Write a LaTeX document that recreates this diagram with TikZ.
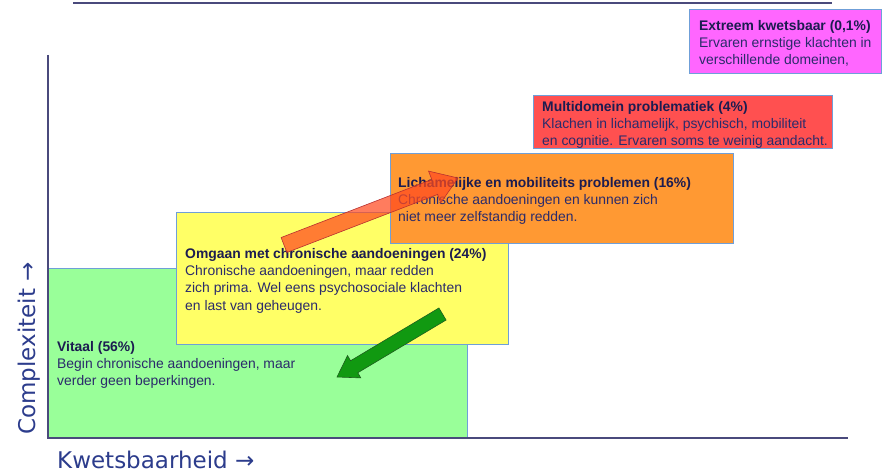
\documentclass[tikz,border=0pt]{standalone}
\usepackage{fontspec}
\setmainfont{Liberation Sans}
\newfontfamily\axisfont{DejaVu Sans}
\usetikzlibrary{calc}

\definecolor{axisline}{HTML}{4A4A7C}
\definecolor{axistext}{HTML}{2C3C8C}
\definecolor{boxline}{HTML}{6F9FD8}
\definecolor{headtext}{HTML}{1C1C50}
\definecolor{bodytext}{HTML}{2B2B6B}
\definecolor{vitaal}{HTML}{99FF99}
\definecolor{omgaan}{HTML}{FFFF66}
\definecolor{lichaam}{HTML}{FF9933}
\definecolor{multi}{HTML}{FF5050}
\definecolor{extreem}{HTML}{FF66FF}
\definecolor{uparrow}{HTML}{FF4A20}
\definecolor{uparrowline}{HTML}{B83030}
\definecolor{downarrow}{HTML}{119911}
\definecolor{downarrowline}{HTML}{1E5E1E}

\tikzset{
  band/.style={draw=boxline, line width=0.8pt},
  bandtext/.style={anchor=north west, inner sep=0pt, align=left,
    text=bodytext, font=\fontsize{13.9}{17.3}\selectfont},
  axislabel/.style={text=axistext, inner sep=0pt,
    font=\axisfont\fontsize{23}{26}\selectfont},
  axis/.style={draw=axisline, line width=1.3pt},
}
\newcommand{\bandhead}[1]{\textcolor{headtext}{\textbf{#1}}}

\begin{document}
\begin{tikzpicture}[x=1pt,y=-1pt]
\useasboundingbox (0,0) rectangle (883,473);

% top rule
\coordinate (ruleL) at (73,3);
\coordinate (ruleR) at (832,3);
\draw[axis] (ruleL) -- (ruleR);

% stacked bands, from vital up to extremely vulnerable
\draw[band, fill=vitaal]  (48,268) rectangle (467,438);
\draw[band, fill=omgaan]  (176,212) rectangle (508,344);
\draw[band, fill=lichaam] (390,153) rectangle (733,243);
\draw[band, fill=multi]   (533,95) rectangle (832,148);
\draw[band, fill=extreem] (689,9) rectangle (881,73);

\node[bandtext] (tvitaal) at (57,341)
  {\bandhead{Vitaal (56\%)}\\Begin chronische aandoeningen, maar\\verder geen beperkingen.};
\node[bandtext] (tomgaan) at (185,248)
  {\bandhead{Omgaan met chronische aandoeningen (24\%)}\\Chronische aandoeningen, maar redden\\zich prima. Wel eens psychosociale klachten\\en last van geheugen.};
\node[bandtext] (tlichaam) at (398,177)
  {\bandhead{Lichamelijke en mobiliteits problemen (16\%)}\\Chronische aandoeningen en kunnen zich\\niet meer zelfstandig redden.};
\node[bandtext] (tmulti) at (542,101)
  {\bandhead{Multidomein problematiek (4\%)}\\Klachen in lichamelijk, psychisch, mobiliteit\\en cognitie. Ervaren soms te weinig aandacht.};
\node[bandtext] (textreem) at (699,20)
  {\bandhead{Extreem kwetsbaar (0,1\%)}\\Ervaren ernstige klachten in\\verschillende domeinen,};

% axes
\coordinate (origin) at (48,438);
\coordinate (ytop) at (48,55);
\coordinate (xend) at (848,438);
\draw[axis] (ytop) -- (origin) -- (xend);

\node[axislabel, anchor=base west] (xlabel) at (57,468) {Kwetsbaarheid →};
\node[axislabel, anchor=base west, rotate=90] (ylabel) at (35,435) {Complexiteit →};

% block arrow upwards (semi-transparent)
\coordinate (ut) at (284,245);
\coordinate (up) at (458,178);
\coordinate (ub) at ($(up)!25pt!(ut)$);
\draw[fill=uparrow, fill opacity=0.72, draw=uparrowline, line width=0.6pt]
  ($(ut)!8pt!90:(up)$) -- ($(ub)!8pt!-90:(ut)$) -- ($(ub)!17pt!-90:(ut)$)
  -- (up) -- ($(ub)!17pt!90:(ut)$) -- ($(ub)!8pt!90:(ut)$)
  -- ($(ut)!8pt!-90:(up)$) -- cycle;

% block arrow downwards
\coordinate (dt) at (442.5,314);
\coordinate (dp) at (337,377);
\coordinate (db) at ($(dp)!20pt!(dt)$);
\draw[fill=downarrow, draw=downarrowline, line width=0.6pt]
  ($(dt)!7pt!90:(dp)$) -- ($(db)!7pt!-90:(dt)$) -- ($(db)!13pt!-90:(dt)$)
  -- (dp) -- ($(db)!13pt!90:(dt)$) -- ($(db)!7pt!90:(dt)$)
  -- ($(dt)!7pt!-90:(dp)$) -- cycle;
\end{tikzpicture}
\end{document}
